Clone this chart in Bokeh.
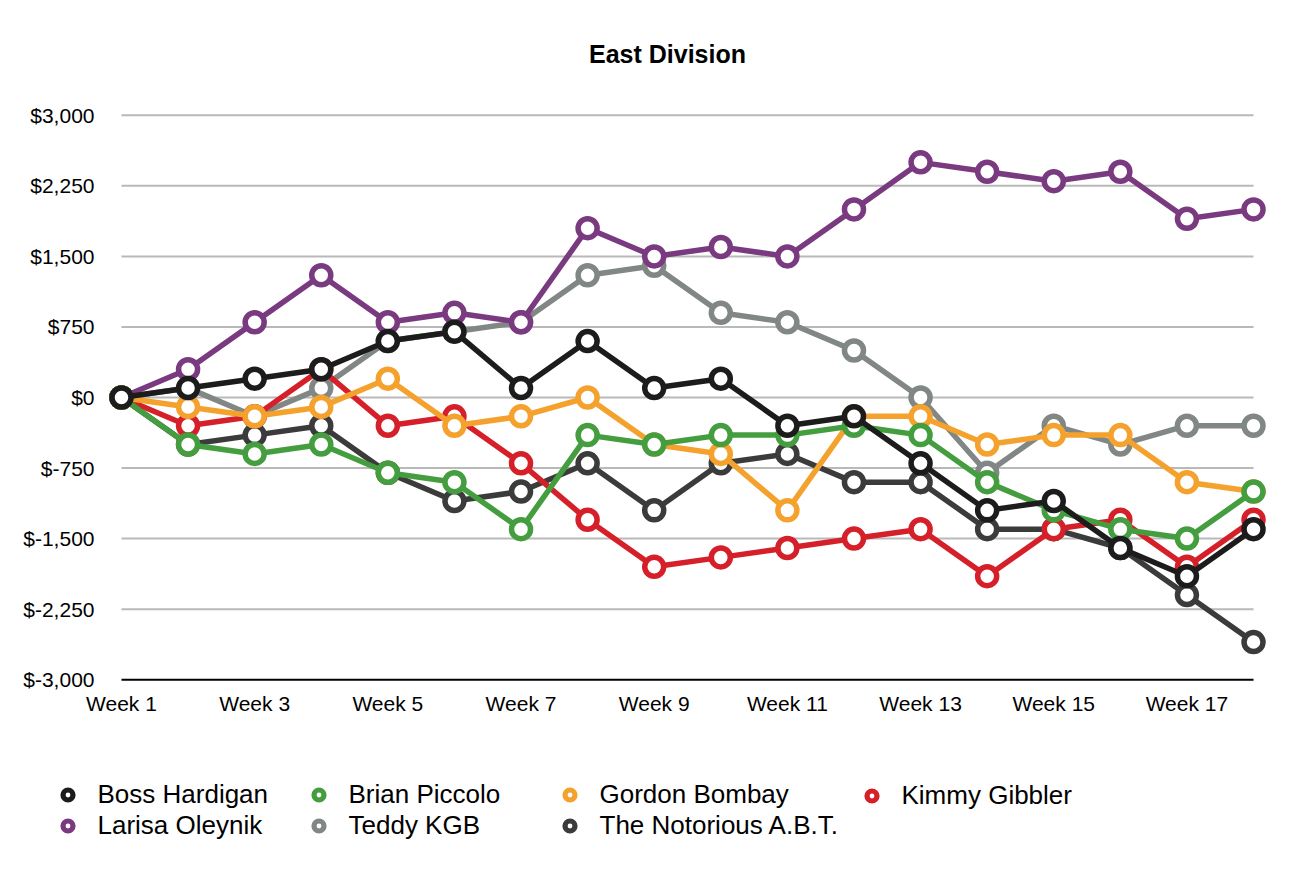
from bokeh.plotting import figure
from bokeh.models import Range1d, FixedTicker, Legend, LegendItem, Label
from bokeh.embed import file_html
from bokeh.resources import INLINE

# ---- data ----
weeks = list(range(1, 19))
week_tick_values = list(range(1, 19, 2))
week_tick_labels = ["Week %d" % w for w in week_tick_values]
y_tick_values = [-3000, -2250, -1500, -750, 0, 750, 1500, 2250, 3000]
y_tick_labels = ["$-3,000", "$-2,250", "$-1,500", "$-750", "$0",
                 "$750", "$1,500", "$2,250", "$3,000"]
chart_title = "East Division"

series_names = ["Boss Hardigan", "Brian Piccolo", "Gordon Bombay", "Kimmy Gibbler",
                "Larisa Oleynik", "Teddy KGB", "The Notorious A.B.T."]
boss_hardigan = [0, 100, 200, 300, 600, 700, 100, 600, 100, 200, -300, -200, -700, -1200, -1100, -1600, -1900, -1400]
brian_piccolo = [0, -500, -600, -500, -800, -900, -1400, -400, -500, -400, -400, -300, -400, -900, -1200, -1400, -1500, -1000]
gordon_bombay = [0, -100, -200, -100, 200, -300, -200, 0, -500, -600, -1200, -200, -200, -500, -400, -400, -900, -1000]
kimmy_gibbler = [0, -300, -200, 300, -300, -200, -700, -1300, -1800, -1700, -1600, -1500, -1400, -1900, -1400, -1300, -1800, -1300]
larisa_oleynik = [0, 300, 800, 1300, 800, 900, 800, 1800, 1500, 1600, 1500, 2000, 2500, 2400, 2300, 2400, 1900, 2000]
teddy_kgb = [0, 100, -200, 100, 600, 700, 800, 1300, 1400, 900, 800, 500, 0, -800, -300, -500, -300, -300]
notorious_abt = [0, -500, -400, -300, -800, -1100, -1000, -700, -1200, -700, -600, -900, -900, -1400, -1400, -1600, -2100, -2600]

series_values = [boss_hardigan, brian_piccolo, gordon_bombay, kimmy_gibbler,
                 larisa_oleynik, teddy_kgb, notorious_abt]
series_colors = ["#1c1c1c", "#449d3f", "#f4a22d", "#d5202a",
                 "#7a3a80", "#818785", "#3b3b3b"]

FONT = "Liberation Sans"
W = 1293


def bare(fig):
    fig.grid.visible = False
    fig.outline_line_color = None
    fig.background_fill_color = "white"
    fig.border_fill_color = "white"


# ---- title strip (separate root) ----
TH = 90
tf = figure(width=W, height=TH, output_backend="svg", toolbar_location=None,
            x_range=Range1d(0, W), y_range=Range1d(0, TH),
            x_axis_location=None, y_axis_location=None,
            min_border_left=0, min_border_right=0, min_border_top=0, min_border_bottom=0)
bare(tf)
tf.add_layout(Label(x=667, y=TH - 53, text=chart_title, text_align="center",
                    text_baseline="middle", text_font=FONT, text_font_size="25px",
                    text_font_style="bold", text_color="black"))

# ---- main chart ----
p = figure(width=W, height=22 + 570 + 78, output_backend="svg", toolbar_location=None,
           x_range=Range1d(0.7, 18.3), y_range=Range1d(-3030, 3030),
           min_border_left=101, min_border_right=20, min_border_top=22,
           min_border_bottom=78)
bare(p)

# gridlines spanning first to last week
grid_vals = [v for v in y_tick_values if v != y_tick_values[0]]
p.segment(x0=[weeks[0]] * len(grid_vals), x1=[weeks[-1]] * len(grid_vals),
          y0=grid_vals, y1=grid_vals, line_color="#b9b9b9", line_width=2)
# bottom axis line
p.segment(x0=[weeks[0]], x1=[weeks[-1]], y0=[y_tick_values[0]], y1=[y_tick_values[0]],
          line_color="black", line_width=2)

# axes
p.xaxis.ticker = FixedTicker(ticks=week_tick_values)
p.xaxis.major_label_overrides = dict(zip(week_tick_values, week_tick_labels))
p.yaxis.ticker = FixedTicker(ticks=y_tick_values)
p.yaxis.major_label_overrides = dict(zip(y_tick_values, y_tick_labels))
for ax in (p.xaxis, p.yaxis):
    ax.axis_line_color = None
    ax.major_tick_line_color = None
    ax.minor_tick_line_color = None
    ax.major_tick_out = 0
    ax.major_tick_in = 0
    ax.major_label_text_font = FONT
    ax.major_label_text_font_size = "21px"
    ax.major_label_text_color = "black"
p.xaxis.major_label_standoff = 9
p.yaxis.major_label_standoff = 7

# series, drawn in reverse so that the first one is on top
for name, vals, col in reversed(list(zip(series_names, series_values, series_colors))):
    p.line(weeks, vals, line_color=col, line_width=5.5, line_join="round")
    p.scatter(weeks, vals, marker="circle", size=19, fill_color="white",
              line_color=col, line_width=5.5)

# ---- legend strip (separate root, frame covers the whole canvas) ----
LH = 100
lf = figure(width=W, height=LH, output_backend="svg", toolbar_location=None,
            x_range=Range1d(-1, 0), y_range=Range1d(-1, 0),
            x_axis_location=None, y_axis_location=None,
            min_border_left=0, min_border_right=0, min_border_top=0, min_border_bottom=0)
bare(lf)

items = []
for name, vals, col in zip(series_names, series_values, series_colors):
    # proxy renderer (its point lies outside this strip's ranges)
    sr = lf.scatter([weeks[0]], vals[:1], marker="circle", fill_color="white",
                    line_color=col, line_width=5.2)
    items.append(LegendItem(label=name, renderers=[sr]))

columns = [[items[0], items[4]], [items[1], items[5]], [items[2], items[6]], [items[3]]]
col_left = [54.5, 305.5, 556.5, 858.5]
ROW_H = 30
top_in_lf = 781 - 760
for col_items, cx in zip(columns, col_left):
    h = ROW_H * len(col_items)
    lg = Legend(items=col_items, location=(cx, LH - top_in_lf - h),
                orientation="vertical", glyph_width=25, glyph_height=25,
                label_height=25, label_standoff=18, spacing=0, padding=0, margin=0,
                border_line_color=None, background_fill_alpha=0,
                label_text_font=FONT, label_text_font_size="26px",
                label_text_color="black")
    lf.add_layout(lg, "center")

open("out.html", "w").write(file_html([tf, p, lf], INLINE))
